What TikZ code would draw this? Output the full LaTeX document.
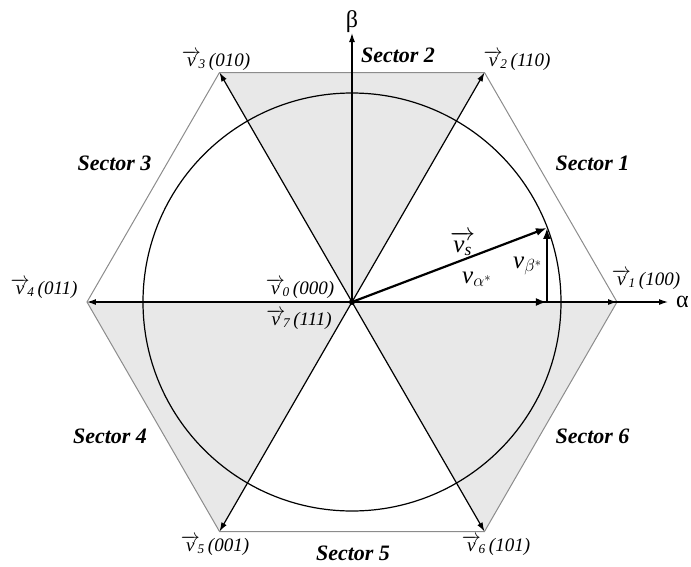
\RequirePackage{fix-cm}
\documentclass[tikz,border=0pt]{standalone}
\usepackage{amsmath}
\usepackage{fontspec}
\setmainfont{Liberation Serif}
\usetikzlibrary{arrows.meta}
\definecolor{shadegray}{HTML}{E8E8E8}
\definecolor{hexgray}{HTML}{8C8C8C}
\newcommand{\vlab}[2]{$\overrightarrow{\text{\itshape v}}_{\!\text{\itshape #1}}$\,\textit{(#2)}}
\begin{document}
\begin{tikzpicture}[x=1pt,y=1pt,
  thinarrow/.style={line width=1.2pt, -{Latex[length=9pt,width=6pt]}},
  thickarrow/.style={line width=2.2pt, -{Latex[length=11pt,width=8pt]}},
  hexedge/.style={draw=hexgray, line width=1pt},
  sectorfill/.style={fill=shadegray},
  sector/.style={font=\fontsize{22}{26}\selectfont\bfseries\itshape, inner sep=0pt, anchor=base},
  vlabel/.style={font=\fontsize{19}{23}\selectfont, inner sep=0pt, anchor=base},
  biglabel/.style={font=\fontsize{25}{30}\selectfont, inner sep=0pt, anchor=base west},
  axlabel/.style={font=\fontsize{24}{28}\selectfont, inner sep=0pt}]
\useasboundingbox (-352,-264) rectangle (339,302);
\coordinate (O) at (0,0);
\coordinate (V1) at (0:265);
\coordinate (V2) at (60:265);
\coordinate (V3) at (120:265);
\coordinate (V4) at (180:265);
\coordinate (V5) at (240:265);
\coordinate (V6) at (300:265);
\coordinate (Aend) at (316,0);
\coordinate (Bend) at (0,269);
\coordinate (S) at (20.8:208.5);
\coordinate (Sa) at (S |- O);
% shaded sectors
\fill[sectorfill] (O) -- (V2) -- (V3) -- cycle;
\fill[sectorfill] (O) -- (V4) -- (V5) -- cycle;
\fill[sectorfill] (O) -- (V6) -- (V1) -- cycle;
% hexagon
\draw[hexedge] (V1) -- (V2) -- (V3) -- (V4) -- (V5) -- (V6) -- cycle;
% circle
\draw[line width=1.2pt] (O) circle[radius=209pt];
% axes and vectors
\draw[thinarrow] (O) -- (Bend);
\draw[thinarrow] (O) -- (Aend);
\draw[thinarrow] (O) -- (V1);
\draw[thinarrow] (O) -- (V2);
\draw[thinarrow] (O) -- (V3);
\draw[thinarrow] (O) -- (V4);
\draw[thinarrow] (O) -- (V5);
\draw[thinarrow] (O) -- (V6);
\draw[thickarrow] (O) -- (Sa);
\draw[thickarrow] (Sa) -- (S);
\draw[thickarrow] (O) -- (S);
\fill (O) circle[radius=3pt];
% axis labels
\node[axlabel, anchor=base] (beta) at (0,275) {β};
\node[axlabel, anchor=base west] (alpha) at (324,-5) {α};
% sector labels
\node[sector] (s1) at (240.5,132) {Sector 1};
\node[sector] (s2) at (46,240) {Sector 2};
\node[sector] (s3) at (-237.5,132) {Sector 3};
\node[sector] (s4) at (-242,-141) {Sector 4};
\node[sector] (s5) at (1,-258) {Sector 5};
\node[sector] (s6) at (240.5,-141) {Sector 6};
% vector labels
\node[vlabel] (l1) at (294,17) {\vlab{1}{100}};
\node[vlabel] (l2) at (165,236) {\vlab{2}{110}};
\node[vlabel] (l3) at (-136,236) {\vlab{3}{010}};
\node[vlabel] (l4) at (-308,8) {\vlab{4}{011}};
\node[vlabel] (l5) at (-137,-249) {\vlab{5}{001}};
\node[vlabel] (l6) at (144,-249) {\vlab{6}{101}};
\node[vlabel] (l0) at (-52,8) {\vlab{0}{000}};
\node[vlabel] (l7) at (-53,-23) {\vlab{7}{111}};
% reference vector labels
\node[biglabel] (vs) at (98,50) {$\overrightarrow{\text{\itshape v}_{\text{\itshape s}}}$};
\node[biglabel] (vb) at (161,34) {\textit{v}$_{\beta^{*}}$};
\node[biglabel] (va) at (110,19) {\textit{v}$_{\alpha^{*}}$};
\end{tikzpicture}
\end{document}
